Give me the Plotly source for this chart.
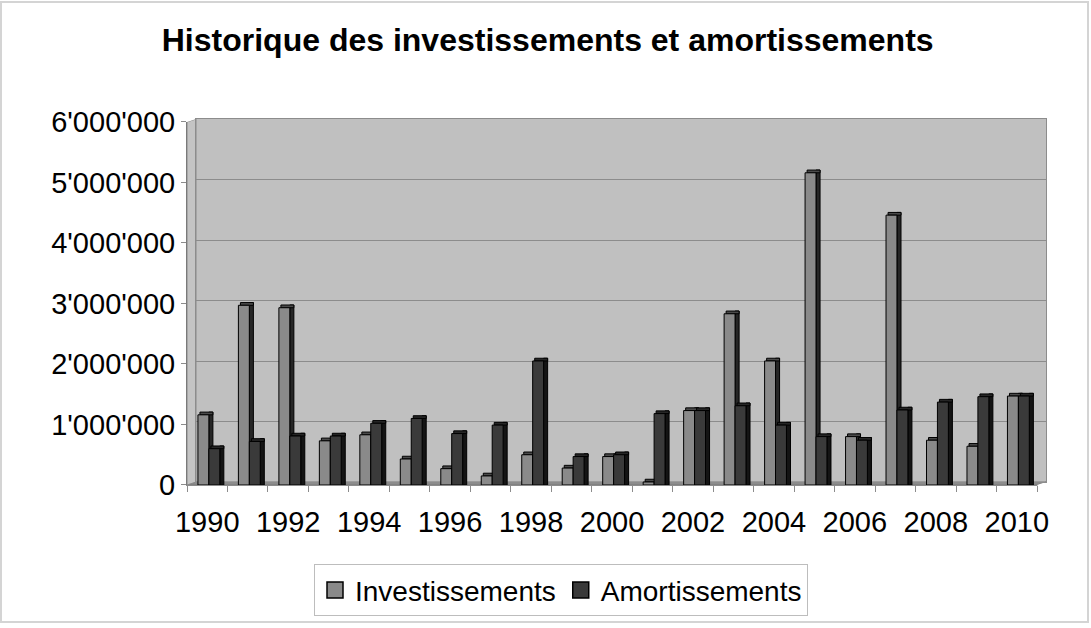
import plotly.graph_objects as go

# ---------------- data ----------------
years = list(range(1990, 2011))
investissements = [1160000, 2970000, 2930000, 730000, 830000, 430000, 270000,
                   150000, 500000, 280000, 470000, 50000, 1230000, 2830000,
                   2050000, 5160000, 800000, 4460000, 740000, 640000, 1470000]
amortissements = [600000, 720000, 810000, 810000, 1020000, 1100000, 850000,
                  990000, 2050000, 470000, 500000, 1180000, 1230000, 1310000,
                  990000, 800000, 740000, 1240000, 1370000, 1460000, 1470000]
ytick_vals = [0, 1000000, 2000000, 3000000, 4000000, 5000000, 6000000]
ytick_text = ["0", "1'000'000", "2'000'000", "3'000'000", "4'000'000", "5'000'000", "6'000'000"]
xtick_vals = list(range(1990, 2011, 2))
title = "Historique des investissements et amortissements"
names = ["Investissements", "Amortissements"]

# ---------------- geometry (pixels) ----------------
W, H = 1091, 628
FX0, FX1, FY0, FY1 = 187, 1037, 122, 488      # front plot rectangle
DX, DY = 9, 3                                  # 3-D depth shift of back wall
L, R, T, B = FX0, W - (FX1 + DX), FY0 - DY, H - FY1
PW, PH = W - L - R, H - T - B
FONT = "Liberation Sans, Arial, sans-serif"


def px(xp):
    return (xp - L) / PW


def py(yp):
    return (H - B - yp) / PH


depth = 45000            # depth of bar caps in data units
bw = 0.27                # bar front width (category units)
side_w = 0.1
offsets = [-0.23, -0.23 + bw]
front_cols = ["#8a8a8a", "#3a3a3a"]
cap_cols = ["#4a4a4a", "#262626"]
side_cols = ["#262626", "#141414"]

fig = go.Figure()

# invisible trace for back-wall subplot
fig.add_trace(go.Scatter(x=[years[0]], y=[0], xaxis="x", yaxis="y",
                         mode="markers", marker=dict(opacity=0),
                         showlegend=False, hoverinfo="skip"))

for i, (vals, nm) in enumerate(zip([investissements, amortissements], names)):
    off = offsets[i]
    line = dict(color="#000000", width=1)
    fig.add_trace(go.Bar(x=years, y=[v + depth for v in vals], base=0,
                         offset=off + bw, width=side_w,
                         marker=dict(color=side_cols[i], line=line),
                         xaxis="x2", yaxis="y2", showlegend=False, hoverinfo="skip"))
    fig.add_trace(go.Bar(x=years, y=[depth] * len(vals), base=vals,
                         offset=off + side_w / 2, width=bw + side_w / 2,
                         marker=dict(color=cap_cols[i], line=line),
                         xaxis="x2", yaxis="y2", showlegend=False, hoverinfo="skip"))
    fig.add_trace(go.Bar(x=years, y=vals, name=nm, offset=off, width=bw,
                         marker=dict(color=front_cols[i], line=line),
                         xaxis="x2", yaxis="y2", showlegend=False))

# legend entries (large square swatches)
for i, nm in enumerate(names):
    fig.add_trace(go.Scatter(x=[None], y=[None], name=nm, mode="markers",
                             marker=dict(symbol="square", size=18, color=front_cols[i],
                                         line=dict(color="#000000", width=1.5)),
                             xaxis="x2", yaxis="y2", hoverinfo="skip"))

xr = [years[0] - 0.5, years[-1] + 0.5]
boundaries = [y - 0.5 for y in years] + [years[-1] + 0.5]

shapes = [
    # wall background
    dict(type="rect", xref="paper", yref="paper", layer="below",
         x0=0, x1=1, y0=0, y1=1, fillcolor="#c0c0c0", line=dict(width=0)),
    # floor
    dict(type="path", xref="paper", yref="paper", layer="below",
         path=f"M {px(FX0)},{py(FY1)} L {px(FX1)},{py(FY1)} L {px(FX1+DX)},{py(FY1-DY)} "
              f"L {px(FX0+DX)},{py(FY1-DY)} Z",
         fillcolor="#8c8c8c", line=dict(color="#777777", width=1)),
    # left wall
    dict(type="path", xref="paper", yref="paper", layer="below",
         path=f"M {px(FX0)},{py(FY1)} L {px(FX0)},{py(FY0)} L {px(FX0+DX)},{py(FY0-DY)} "
              f"L {px(FX0+DX)},{py(FY1-DY)} Z",
         fillcolor="#c4c4c4", line=dict(color="#8a8a8a", width=1)),
    # white corners outside the 3-D box
    dict(type="path", xref="paper", yref="paper", layer="below",
         path=f"M {px(FX0)},{py(FY0)} L {px(FX0)},{py(FY0-DY)} L {px(FX0+DX)},{py(FY0-DY)} Z",
         fillcolor="white", line=dict(width=0)),
    dict(type="path", xref="paper", yref="paper", layer="below",
         path=f"M {px(FX1)},{py(FY1)} L {px(FX1+DX)},{py(FY1)} L {px(FX1+DX)},{py(FY1-DY)} Z",
         fillcolor="white", line=dict(width=0)),
    # outer frame
    dict(type="rect", xref="paper", yref="paper", layer="above",
         x0=px(1), x1=px(W - 3), y0=py(H - 2), y1=py(1),
         line=dict(color="#d4d4d4", width=2), fillcolor="rgba(0,0,0,0)"),
]

fig.update_layout(
    width=W, height=H,
    margin=dict(l=L, r=R, t=T, b=B, pad=0),
    paper_bgcolor="white", plot_bgcolor="rgba(0,0,0,0)",
    font=dict(family=FONT, size=28, color="black"),
    barmode="overlay",
    title=dict(text=f"<b>{title}</b>", x=0.502, xref="container", xanchor="center",
               y=1 - 40 / H, yref="container", yanchor="middle",
               font=dict(family=FONT, size=32, color="black")),
    xaxis=dict(domain=[px(FX0 + DX), 1], range=xr, anchor="y",
               showgrid=False, showticklabels=False, ticks="", zeroline=False,
               showline=True, mirror=True, linecolor="#8c8c8c", linewidth=1),
    yaxis=dict(domain=[py(FY1 - DY), 1], range=[0, 6000000], anchor="x",
               tickvals=ytick_vals, showticklabels=False, ticks="",
               showgrid=True, gridcolor="#8c8c8c", gridwidth=1, zeroline=False,
               showline=True, mirror=True, linecolor="#8c8c8c", linewidth=1),
    xaxis2=dict(domain=[0, px(FX1)], range=xr, anchor="y2",
                tickvals=xtick_vals, ticktext=[str(v) for v in xtick_vals],
                ticks="", showgrid=False, zeroline=False,
                showline=True, linecolor="#8c8c8c", linewidth=1,
                tickfont=dict(size=29), ticklabelstandoff=11,
                minor=dict(tickvals=boundaries, ticks="outside", ticklen=6,
                           tickcolor="#8c8c8c", showgrid=False)),
    yaxis2=dict(domain=[0, py(FY0)], range=[0, 6000000], anchor="x2",
                tickvals=ytick_vals, ticktext=ytick_text,
                ticks="outside", ticklen=5, tickcolor="#8c8c8c",
                ticklabelstandoff=0,
                showgrid=False, zeroline=False,
                showline=True, linecolor="#7a7a7a", linewidth=1,
                tickfont=dict(size=29)),
    legend=dict(orientation="h", x=px(561), xanchor="center", y=py(568), yanchor="top",
                bgcolor="white", bordercolor="#bdbdbd", borderwidth=1,
                font=dict(size=28), itemwidth=30, tracegroupgap=0,
                itemsizing="trace"),
    shapes=shapes,
    showlegend=True,
)

fig.write_html("out.html", config={"displayModeBar": False},
               post_script="document.body.style.margin='0';document.body.style.overflow='hidden';")
